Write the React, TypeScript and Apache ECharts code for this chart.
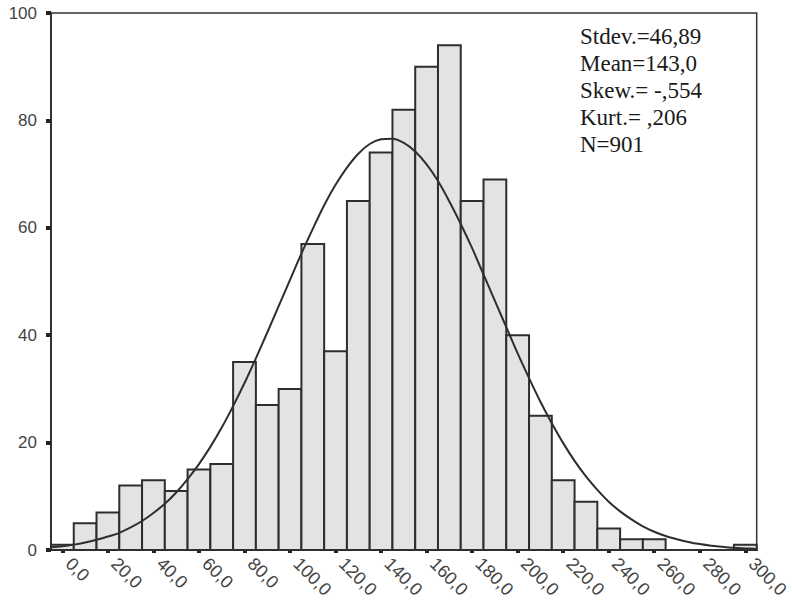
import React, { useEffect, useRef } from "react";
import * as echarts from "echarts";

// Histogram bins (bin centers, width 10) and counts
const binCenters = [0, 10, 20, 30, 40, 50, 60, 70, 80, 90, 100, 110, 120, 130, 140, 150, 160, 170, 180, 190, 200, 210, 220, 230, 240, 250, 260, 270, 280, 290, 300];
const binCounts = [1, 5, 7, 12, 13, 11, 15, 16, 35, 27, 30, 57, 37, 65, 74, 82, 90, 94, 65, 69, 40, 25, 13, 9, 4, 2, 2, 0, 0, 0, 1];
const binWidth = 10;

// Fitted normal curve
const curveX = [-5, 0, 5, 10, 15, 20, 25, 30, 35, 40, 45, 50, 55, 60, 65, 70, 75, 80, 85, 90, 95, 100, 105, 110, 115, 120, 125, 130, 135, 140, 145, 150, 155, 160, 165, 170, 175, 180, 185, 190, 195, 200, 205, 210, 215, 220, 225, 230, 235, 240, 245, 250, 255, 260, 265, 270, 275, 280, 285, 290, 295, 300, 305];
const curveY = [0.5, 0.7, 1.0, 1.4, 1.9, 2.5, 3.2, 4.2, 5.4, 6.9, 8.6, 10.7, 13.2, 16.0, 19.2, 22.8, 26.8, 31.1, 35.7, 40.5, 45.4, 50.3, 55.2, 59.8, 64.2, 68.0, 71.2, 73.8, 75.6, 76.5, 76.6, 75.8, 74.2, 71.8, 68.7, 64.9, 60.7, 56.2, 51.3, 46.4, 41.5, 36.6, 32.0, 27.6, 23.6, 19.9, 16.6, 13.7, 11.2, 9.0, 7.2, 5.7, 4.4, 3.4, 2.6, 2.0, 1.5, 1.1, 0.8, 0.6, 0.4, 0.3, 0.2];

// Axis ticks
const xTickValues = [0, 20, 40, 60, 80, 100, 120, 140, 160, 180, 200, 220, 240, 260, 280, 300];

// Statistics box
const statLines = ["Stdev.=46,89", "Mean=143,0", "Skew.= -,554", "Kurt.= ,206", "N=901"];

export default function App() {
  const ref = useRef<HTMLDivElement>(null);
  useEffect(() => {
    const chart = echarts.init(ref.current as HTMLDivElement, null, { renderer: "svg" });
    const axisFont = "'Liberation Sans', Arial, sans-serif";
    chart.setOption({
      animation: false,
      backgroundColor: "#ffffff",
      grid: {
        left: 51,
        top: 13,
        right: 35,
        bottom: 54,
        show: true,
        borderColor: "#333",
        borderWidth: 1.5,
        backgroundColor: "transparent",
      },
      xAxis: {
        type: "value",
        min: -5,
        max: 305,
        splitLine: { show: false },
        axisLine: { show: true, onZero: false, lineStyle: { color: "#333", width: 2 } },
        axisTick: { show: true, customValues: xTickValues, length: 3, lineStyle: { color: "#222", width: 4 } },
        axisLabel: {
          customValues: xTickValues,
          rotate: -45,
          margin: 17,
          verticalAlign: "bottom",
          fontFamily: axisFont,
          fontSize: 18,
          color: "#444",
          formatter: (v: number) => v.toFixed(1).replace(".", ","),
        },
      },
      yAxis: {
        type: "value",
        min: 0,
        max: 100,
        interval: 20,
        splitLine: { show: false },
        axisLine: { show: true, onZero: false, lineStyle: { color: "#333", width: 2 } },
        axisTick: { show: true, length: 5, lineStyle: { color: "#222", width: 4 } },
        axisLabel: { margin: 14, fontFamily: axisFont, fontSize: 17, color: "#444" },
      },
      series: [
        {
          type: "custom",
          data: binCenters.map((c, i) => [c, binCounts[i]]),
          encode: { x: 0, y: 1 },
          renderItem: (params: any, api: any) => {
            const c = api.value(0);
            const v = api.value(1);
            if (!v) return { type: "group", children: [] };
            const p0 = api.coord([c - binWidth / 2, 0]);
            const p1 = api.coord([c + binWidth / 2, v]);
            return {
              type: "rect",
              shape: { x: p0[0], y: p1[1], width: p1[0] - p0[0], height: p0[1] - p1[1] },
              style: { fill: "#e3e3e3", stroke: "#2e2e2e", lineWidth: 2 },
            };
          },
          z: 2,
        },
        {
          type: "line",
          data: curveX.map((x, i) => [x, curveY[i]]),
          smooth: 0.3,
          showSymbol: false,
          symbol: "none",
          lineStyle: { color: "#2e2e2e", width: 2 },
          z: 3,
        },
      ],
      graphic: [
        {
          type: "text",
          left: 580,
          top: 23,
          style: {
            text: statLines.join("\n"),
            fontFamily: "'Liberation Serif', 'Times New Roman', serif",
            fontSize: 23,
            lineHeight: 27,
            fill: "#1a1a1a",
          },
        },
      ],
    });
    return () => chart.dispose();
  }, []);
  return <div ref={ref} style={{ position: "absolute", left: 0, top: 0, width: 792, height: 604 }} />;
}
